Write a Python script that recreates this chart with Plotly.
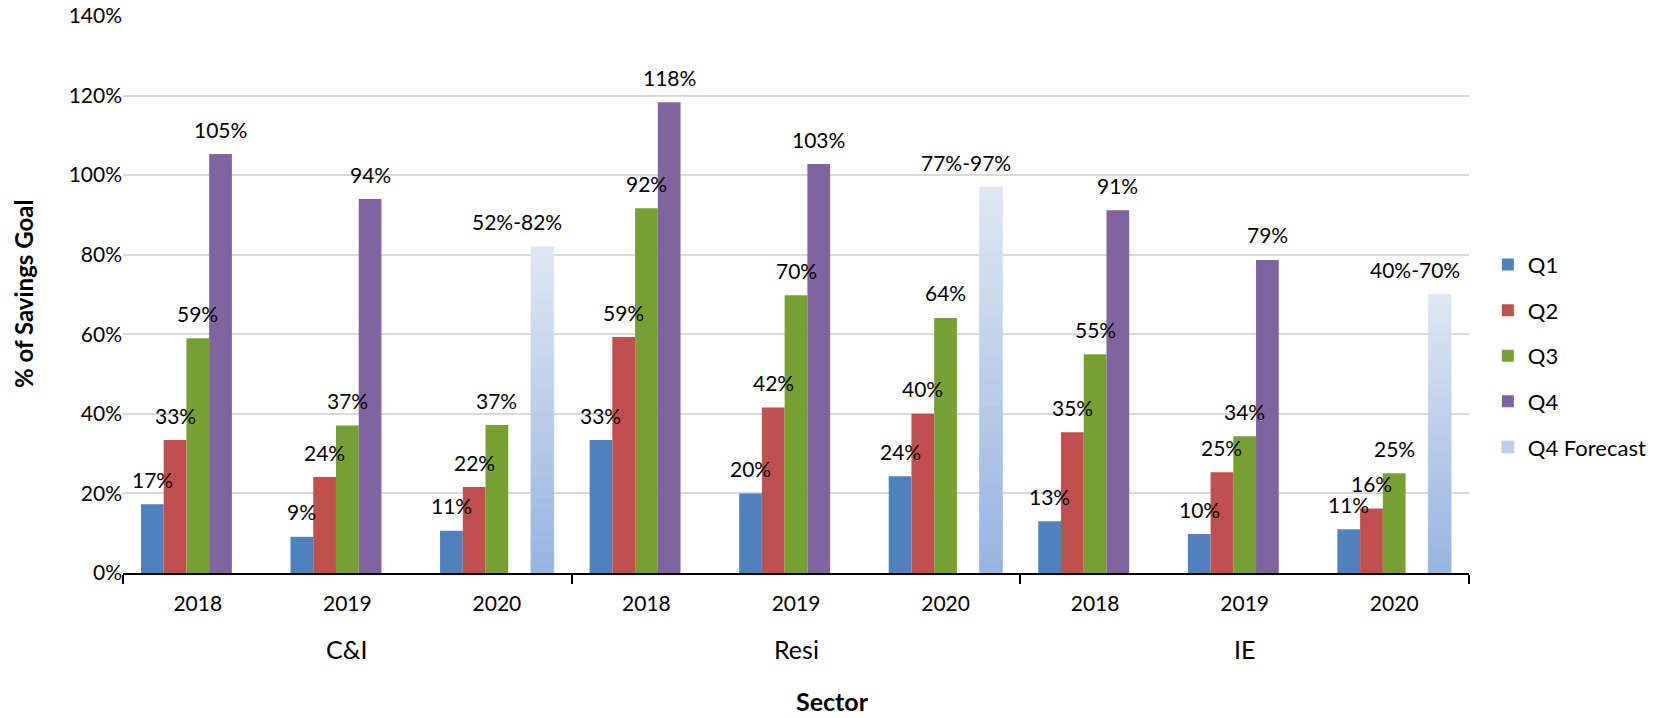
import plotly.graph_objects as go

# ---------------- data ----------------
sectors = ["C&I", "Resi", "IE"]
years = ["2018", "2019", "2020"]

q1 = [17.3, 9.1, 10.6, 33.4, 20.0, 24.3, 13.0, 9.8, 11.0]
q2 = [33.4, 24.1, 21.6, 59.3, 41.6, 40.0, 35.4, 25.3, 16.2]
q3 = [59.0, 37.1, 37.2, 91.7, 69.8, 64.1, 55.0, 34.4, 25.1]
q4 = [105.3, 94.0, None, 118.3, 102.8, None, 91.2, 78.7, None]
q4_forecast_high = [None, None, 82.0, None, None, 97.0, None, None, 70.0]
q4_forecast_low = [None, None, 52.0, None, None, 77.0, None, None, 40.0]

series_names = ["Q1", "Q2", "Q3", "Q4"]
series_values = [q1, q2, q3, q4]

# ---------------- style ----------------
FONT = "Lato"
colors = ["#4f81bd", "#c0504d", "#77a033", "#8064a2"]
grad_top = (223, 231, 243)
grad_bottom = (150, 180, 226)
N_SEG = 30
BARGAP = 0.24
N_SLOTS = 5
slot_w = (1 - BARGAP) / N_SLOTS
LABEL_SIZE = 21

categories = [(s, y) for s in sectors for y in years]
xpos = list(range(len(categories)))

fig = go.Figure()

for i, (name, vals) in enumerate(zip(series_names, series_values)):
    xs = [x for x, v in zip(xpos, vals) if v is not None]
    ys = [v for v in vals if v is not None]
    fig.add_bar(x=xs, y=ys, name=name, marker=dict(color=colors[i], line=dict(width=0)),
                offsetgroup=str(i), legendgroup=name, hoverinfo="skip")

# forecast bars drawn with a vertical gradient (light at top)
fx = [x for x, v in zip(xpos, q4_forecast_high) if v is not None]
fv = [v for v in q4_forecast_high if v is not None]
for k in range(N_SEG):
    t = (k + 0.5) / N_SEG
    c = tuple(int(round(grad_bottom[j] + (grad_top[j] - grad_bottom[j]) * t)) for j in range(3))
    col = "rgb(%d,%d,%d)" % c
    fig.add_bar(x=fx, y=[v / N_SEG for v in fv], base=[v * k / N_SEG for v in fv],
                name="Q4 Forecast", marker=dict(color=col, line=dict(width=0.8, color=col)),
                offsetgroup="f", legendgroup="Q4 Forecast",
                showlegend=(k == N_SEG // 2), hoverinfo="skip")

annotations = []
# value labels
for i, vals in enumerate(series_values):
    for x, v in zip(xpos, vals):
        if v is None:
            continue
        annotations.append(dict(x=x + (i - 2) * slot_w, y=v, xref="x", yref="y",
                                text=f"{round(v)}%", showarrow=False, yshift=25,
                                font=dict(family=FONT, size=LABEL_SIZE, color="black")))
for x, lo, hi in zip(xpos, q4_forecast_low, q4_forecast_high):
    if hi is None:
        continue
    annotations.append(dict(x=x + 2 * slot_w, y=hi, xref="x", yref="y",
                            text=f"{round(lo)}%-{round(hi)}%", showarrow=False,
                            yshift=25, xshift=-25,
                            font=dict(family=FONT, size=LABEL_SIZE, color="black")))
# sector labels
for j, s in enumerate(sectors):
    annotations.append(dict(x=j * len(years) + (len(years) - 1) / 2, y=0, xref="x", yref="paper",
                            text=s, showarrow=False, yshift=-76, yanchor="middle",
                            font=dict(family=FONT, size=25, color="black")))
# axis titles
annotations.append(dict(x=0.527, y=0, xref="paper", yref="paper", text="<b>Sector</b>",
                        showarrow=False, yshift=-128, yanchor="middle", xanchor="center",
                        font=dict(family=FONT, size=25, color="black")))
annotations.append(dict(x=-0.0739, y=0.5, xref="paper", yref="paper",
                        text="<b>% of Savings Goal</b>", textangle=-90, showarrow=False,
                        xanchor="center", yanchor="middle",
                        font=dict(family=FONT, size=24, color="black")))

fig.update_layout(
    width=1665, height=718,
    margin=dict(l=123, r=196, t=16, b=145, autoexpand=False),
    paper_bgcolor="white", plot_bgcolor="white",
    barmode="group", bargap=BARGAP, bargroupgap=0,
    font=dict(family=FONT, size=21, color="black"),
    annotations=annotations,
    legend=dict(x=1.014, xanchor="left", y=0.39, yanchor="middle",
                font=dict(family=FONT, size=22, color="black"),
                tracegroupgap=14, bgcolor="rgba(0,0,0,0)"),
    showlegend=True,
)

fig.update_xaxes(
    range=[-0.5, len(categories) - 0.5], automargin=False,
    tickmode="array", tickvals=xpos, ticktext=[y for _, y in categories],
    ticks="outside", ticklen=11, tickcolor="rgba(0,0,0,0)",
    showgrid=False, zeroline=False,
    showline=True, linecolor="black", linewidth=1.5,
    tickfont=dict(family=FONT, size=21, color="black"),
    minor=dict(tickmode="array", tickvals=[-0.5 + 3 * j for j in range(4)],
               ticks="outside", ticklen=9, tickcolor="black", tickwidth=1.5, showgrid=False),
)
fig.update_yaxes(
    range=[0, 140], dtick=20, ticksuffix="%", automargin=False,
    showgrid=True, gridcolor="#d9d9d9", gridwidth=1.5,
    zeroline=False, showline=False, ticks="",
    tickfont=dict(family=FONT, size=21, color="black"),
)

fig.write_html("out.html", config={"displayModeBar": False},
               post_script="document.body.style.margin='0';document.body.style.overflow='hidden';")
